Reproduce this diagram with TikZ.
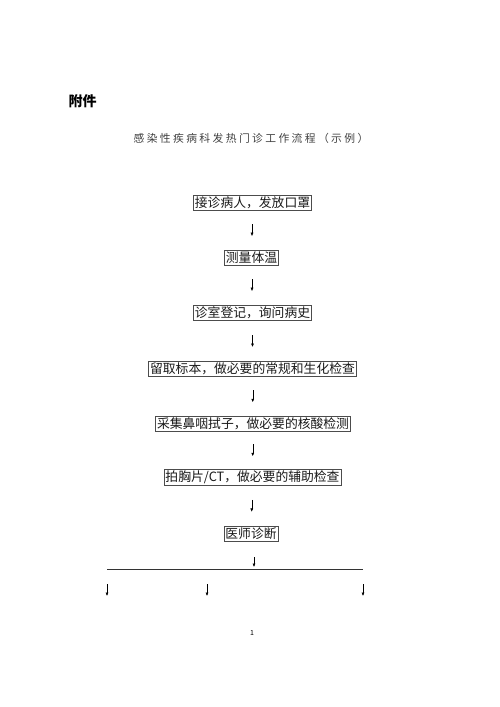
\documentclass[tikz,border=0pt]{standalone}
\usepackage{fontspec}
\setmainfont{Noto Sans CJK SC}
\usetikzlibrary{arrows.meta,calc}
\begin{document}
\begin{tikzpicture}[x=1pt,y=-1pt,
  stepbox/.style={draw=black!70,line width=0.6pt,inner xsep=1.5pt,inner ysep=1.5pt,font=\fontsize{12.8}{14}\selectfont,text=black!90},
  arr/.style={line width=0.5pt,-{Latex[length=3.5pt,width=3pt]}}]
\useasboundingbox (0,0) rectangle (500,707);
\node[anchor=west,font=\fontsize{14}{16}\selectfont\bfseries] (fj) at (65,101) {附件};
\node[font=\fontsize{10.8}{12}\selectfont\addfontfeatures{LetterSpace=22},text=black!75] (title) at (251,138) {感染性疾病科发热门诊工作流程（示例）};
\node[stepbox] (b1) at (252.5,202.5) {接诊病人，发放口罩};
\node[stepbox] (b2) at (251.5,257.5) {测量体温};
\node[stepbox] (b3) at (252.5,313) {诊室登记，询问病史};
\node[stepbox] (b4) at (252.5,369) {留取标本，做必要的常规和生化检查};
\node[stepbox] (b5) at (253,423.5) {采集鼻咽拭子，做必要的核酸检测};
\node[stepbox] (b6) at (252.5,477.5) {拍胸片/CT，做必要的辅助检查};
\node[stepbox] (b7) at (251,533.5) {医师诊断};
\foreach \a/\b in {b1/b2,b2/b3,b3/b4,b4/b5,b5/b6,b6/b7}{
  \draw[arr] ($(\a.south)!0.5!(\b.north)+(0,-6)$) -- ++(0,12);
}
\coordinate (L) at (107,569);
\coordinate (R) at (363,569);
\coordinate (M) at (254,569);
\draw[line width=0.7pt,black!80] (L) -- (R);
\draw[arr] ($(M)+(0,-12)$) -- ($(M)+(0,-2)$);
\coordinate (d1) at (107,584);
\coordinate (d2) at (207,584);
\coordinate (d3) at (363,584);
\foreach \d in {d1,d2,d3}{\draw[arr] (\d) -- ++(0,12);}
\node[font=\fontsize{7}{8}\selectfont] (pg) at (252,633) {1};
\end{tikzpicture}
\end{document}
